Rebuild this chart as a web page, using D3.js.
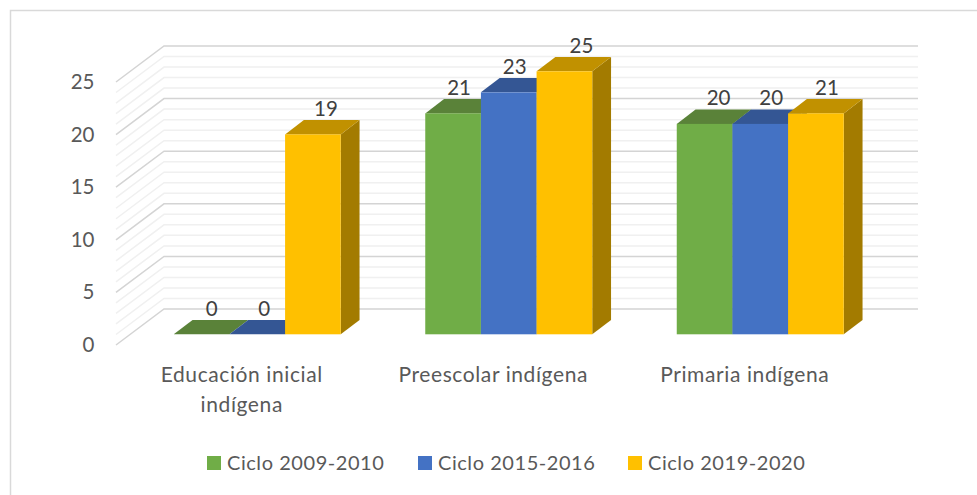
<!DOCTYPE html>
<html lang="en">

<head>
	<meta charset="utf-8">
	<title>Ciclos educación indígena</title>
	<script type="text/javascript" src="https://d3js.org/d3.v7.min.js"></script>
	<style type="text/css">
		html, body { margin: 0; padding: 0; background: #fff; }
		svg { display: block; }
		text { font-family: Lato, "Open Sans", sans-serif; }
	</style>
</head>

<body>
	<div id="chart"></div>
	<script type="text/javascript">
		var categories = ["Educación inicial indígena", "Preescolar indígena", "Primaria indígena"];
		var categoryLines = [["Educación inicial", "indígena"], ["Preescolar indígena"], ["Primaria indígena"]];
		var seriesNames = ["Ciclo 2009-2010", "Ciclo 2015-2016", "Ciclo 2019-2020"];
		var ciclo2009 = [0, 21, 20];
		var ciclo2015 = [0, 23, 20];
		var ciclo2019 = [19, 25, 21];
		var seriesValues = [ciclo2009, ciclo2015, ciclo2019];
		var majorTicks = [0, 5, 10, 15, 20, 25];
		var allTicks = d3.range(0, 26);

		var front = ["#70ad47", "#4472c4", "#ffc000"];
		var top3d = ["#5a8239", "#345694", "#c19100"];
		var side = ["#557f33", "#2f5597", "#a37b00"];

		var width = 977, height = 495;
		var svg = d3.select("#chart").append("svg")
			.attr("width", width)
			.attr("height", height);

		// outer chart border, only top and left show in the source
		svg.append("path")
			.attr("d", "M10.5,495V10.5H977")
			.attr("fill", "none")
			.attr("stroke", "#d9d9d9")
			.attr("stroke-width", 1.5);

		// scale for the front of the bars
		var y = d3.scaleLinear().domain([0, 25]).range([334.3, 71.3]);
		// scale for the back wall, and the near edge of the side wall
		var yBack = d3.scaleLinear().domain([0, 25]).range([309, 46]);
		var yEdge = d3.scaleLinear().domain([0, 25]).range([345, 82]);
		var x0 = d3.scaleBand().domain(categories).range([131.5, 886]).paddingInner(0.336).paddingOuter(0.168);
		var x1 = d3.scaleBand().domain(seriesNames).range([0, x0.bandwidth()]);
		var wallLeft = 164, wallRight = 918, edgeLeft = 116;
		var depthX = 18.8, depthY = 14.3;
		// the value labels don't sit at a fixed distance from the bars, nudge per label (category, series)
		var labelShift = [[10, 7, 13], [6, 6, 17], [14, 11, 11]];

		// grid on the wall
		var grid = svg.append("g").attr("fill", "none");
		grid.selectAll("path")
			.data(allTicks.slice().sort(function(a, b) { return (a % 5 === 0) - (b % 5 === 0); }))
			.enter()
			.append("path")
			.attr("d", function(d) {
				return "M" + edgeLeft + "," + yEdge(d) + "L" + wallLeft + "," + yBack(d) + "L" + wallRight + "," + yBack(d);
			})
			.attr("stroke", function(d) { return d % 5 === 0 ? "#d4d4d4" : "#f0f0f0"; })
			.attr("stroke-width", 1.5);

		// bars, one group per category
		var groups = svg.selectAll(".group")
			.data(categories)
			.enter()
			.append("g")
			.attr("class", "group")
			.attr("transform", function(d) { return "translate(" + x0(d) + ",0)"; });

		var bars = groups.selectAll(".bar")
			.data(function(d, i) {
				return seriesNames.map(function(s, j) {
					return { series: s, index: j, cat: i, value: seriesValues[j][i] };
				});
			})
			.enter()
			.append("g")
			.attr("class", "bar");

		// right side face
		bars.append("path")
			.attr("d", function(d) {
				var r = x1(d.series) + x1.bandwidth();
				return "M" + r + "," + y(0) + "L" + (r + depthX) + "," + (y(0) - depthY) +
					"L" + (r + depthX) + "," + (y(d.value) - depthY) + "L" + r + "," + y(d.value) + "Z";
			})
			.attr("fill", function(d) { return side[d.index]; });

		// top face
		bars.append("path")
			.attr("d", function(d) {
				var l = x1(d.series), r = l + x1.bandwidth(), t = y(d.value);
				return "M" + l + "," + t + "L" + (l + depthX) + "," + (t - depthY) +
					"L" + (r + depthX) + "," + (t - depthY) + "L" + r + "," + t + "Z";
			})
			.attr("fill", function(d) { return top3d[d.index]; });

		// front face
		bars.append("rect")
			.attr("x", function(d) { return x1(d.series); })
			.attr("y", function(d) { return y(d.value); })
			.attr("width", x1.bandwidth())
			.attr("height", function(d) { return y(0) - y(d.value); })
			.attr("fill", function(d) { return front[d.index]; });

		// values drawn last so the next bar doesn't cover them
		bars.each(function(d) {
			d3.select(this.parentNode).append("text")
				.attr("x", x1(d.series) + x1.bandwidth() / 2 + labelShift[d.cat][d.index])
				.attr("y", y(d.value) - 18.5)
				.attr("text-anchor", "middle")
				.attr("font-size", 20.5)
				.attr("fill", "#404040")
				.text(d.value);
		});

		// value axis
		var yAxis = svg.append("g")
			.attr("transform", "translate(94.5,0)")
			.call(d3.axisLeft(yEdge).tickValues(majorTicks).tickSize(0).tickPadding(0));
		yAxis.select(".domain").remove();
		yAxis.selectAll("text")
			.attr("font-size", 20.5)
			.attr("fill", "#595959")
			.style("font-family", "Lato");

		// category labels
		var catLabels = svg.selectAll(".cat")
			.data(categories)
			.enter()
			.append("text")
			.attr("class", "cat")
			.attr("text-anchor", "middle")
			.attr("font-size", 21)
			.attr("letter-spacing", 0.6)
			.attr("fill", "#595959");
		catLabels.selectAll("tspan")
			.data(function(d, i) {
				return categoryLines[i].map(function(t) { return { text: t, x: x0(d) + x0.bandwidth() / 2 - 15.5 }; });
			})
			.enter()
			.append("tspan")
			.attr("x", function(d) { return d.x; })
			.attr("y", function(d, i) { return 382 + i * 29.5; })
			.text(function(d) { return d.text; });

		// legend
		var legendX = [207, 418, 628];
		var legend = svg.selectAll(".legend")
			.data(seriesNames)
			.enter()
			.append("g")
			.attr("class", "legend")
			.attr("transform", function(d, i) { return "translate(" + legendX[i] + ",456)"; });
		legend.append("rect")
			.attr("y", 0)
			.attr("width", 14)
			.attr("height", 14)
			.attr("fill", function(d, i) { return front[i]; });
		legend.append("text")
			.attr("x", 20)
			.attr("y", 14)
			.attr("font-size", 20)
			.attr("letter-spacing", 0.55)
			.attr("fill", "#595959")
			.text(function(d) { return d; });
	</script>
</body>

</html>
